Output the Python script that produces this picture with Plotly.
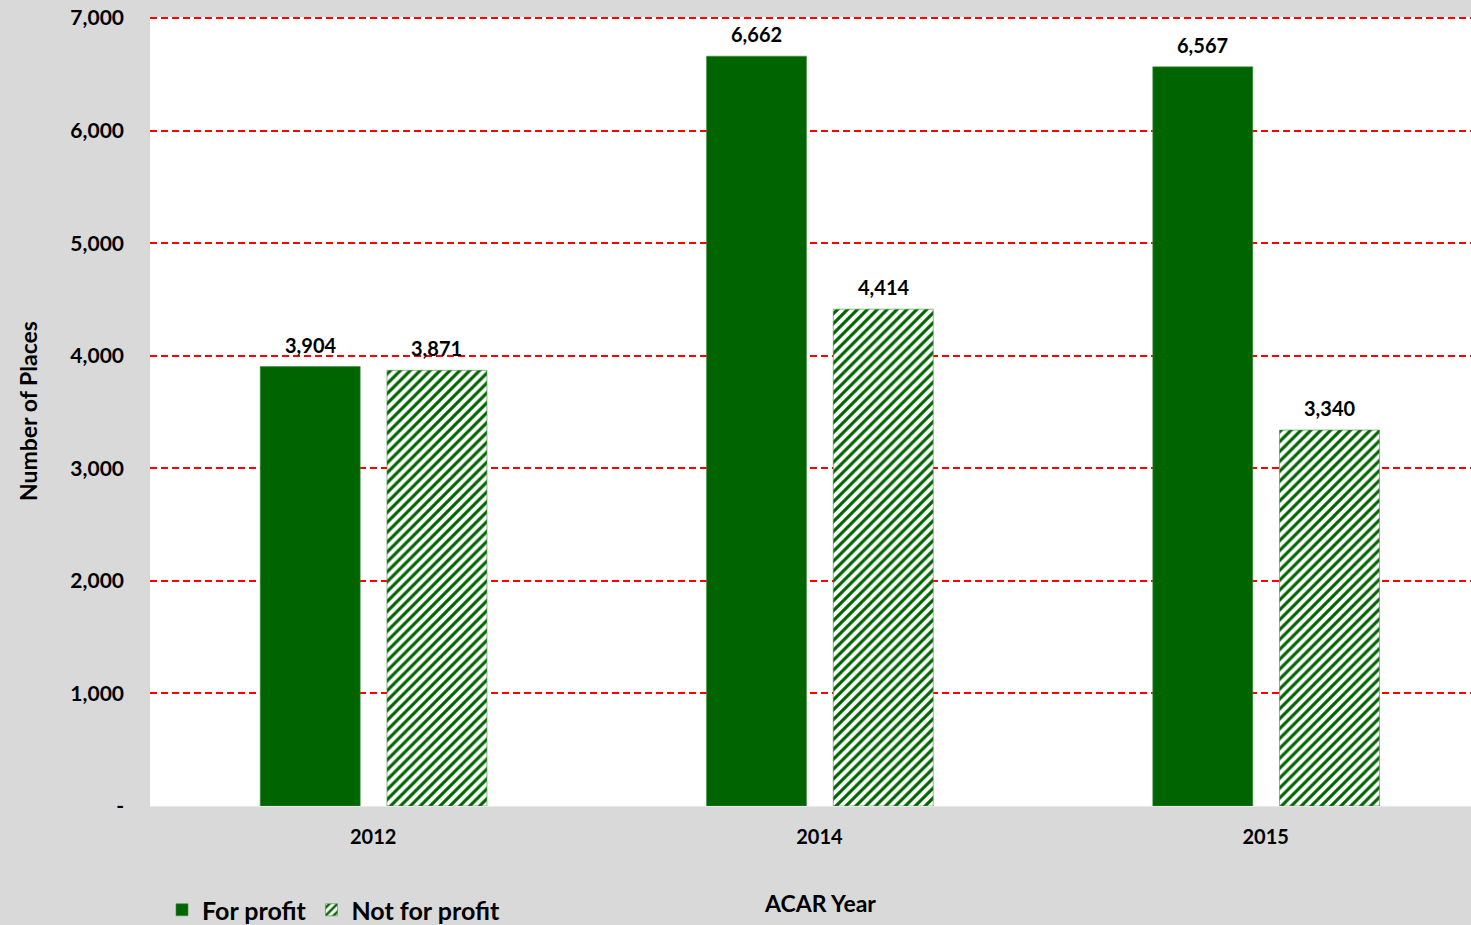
import plotly.graph_objects as go

# Places by ownership type, per ACAR year
years = ["2012", "2014", "2015"]
for_profit = [3904, 6662, 6567]
not_for_profit = [3871, 4414, 3340]

y_ticks = [0, 1000, 2000, 3000, 4000, 5000, 6000, 7000]
y_tick_labels = ["-", "1,000", "2,000", "3,000", "4,000", "5,000", "6,000", "7,000"]

GREEN = "#006400"
BG = "#d9d9d9"
FONT = "Lato"

BAR_W = 0.224
OFF_FP = -0.253
OFF_NFP = 0.031

PLOT_L, PLOT_R, PLOT_T, PLOT_B = 150, 1471, 17, 806


def px_to_paper_y(py):
    return (PLOT_B - py) / (PLOT_B - PLOT_T)


def px_to_paper_x(px):
    return (px - PLOT_L) / (PLOT_R - PLOT_L)


fig = go.Figure()
fig.add_trace(go.Bar(
    name="For profit", x=years, y=for_profit,
    width=BAR_W, offset=OFF_FP,
    marker=dict(color=GREEN, line=dict(color="#3f8f3f", width=0.6)),
))
fig.add_trace(go.Bar(
    name="Not for profit", x=years, y=not_for_profit,
    width=BAR_W, offset=OFF_NFP,
    marker=dict(
        color=GREEN,
        line=dict(color="#3f8f3f", width=0.6),
        pattern=dict(shape="/", fgcolor=GREEN, bgcolor="white",
                     fillmode="replace", size=7, solidity=0.45),
    ),
))

# Value labels above each bar
annotations = []
for i, (fp, nfp) in enumerate(zip(for_profit, not_for_profit)):
    for val, off in ((fp, OFF_FP), (nfp, OFF_NFP)):
        annotations.append(dict(
            x=i + off + BAR_W / 2, y=val, xref="x", yref="y",
            text=f"{val:,}", showarrow=False, yanchor="bottom", yshift=8,
            font=dict(family=FONT, size=20, color="black", weight="bold"),
        ))

# Axis titles
annotations.append(dict(
    x=px_to_paper_x(820), y=px_to_paper_y(903), xref="paper", yref="paper",
    xanchor="center", yanchor="middle",
    text="ACAR Year", showarrow=False,
    font=dict(family=FONT, size=23, color="black", weight="bold"),
))
annotations.append(dict(
    text="Number of Places", x=px_to_paper_x(28), y=px_to_paper_y(411),
    xref="paper", yref="paper", xanchor="center", yanchor="middle",
    textangle=-90, showarrow=False,
    font=dict(family=FONT, size=23, color="black", weight="bold"),
))

fig.update_layout(
    width=1471, height=925,
    margin=dict(l=PLOT_L, r=1471 - PLOT_R, t=PLOT_T, b=925 - PLOT_B, pad=0,
                autoexpand=False),
    paper_bgcolor=BG, plot_bgcolor="white",
    barmode="overlay",
    font=dict(family=FONT, color="black"),
    showlegend=True,
    legend=dict(
        orientation="h", x=px_to_paper_x(162), xanchor="left",
        y=px_to_paper_y(910), yanchor="middle",
        bgcolor="rgba(0,0,0,0)",
        font=dict(family=FONT, size=25, color="black", weight="bold"),
        itemwidth=30, traceorder="normal",
    ),
    annotations=annotations,
    xaxis=dict(
        type="category", range=[-0.5, 2.46],
        showgrid=False, zeroline=False, showline=False,
        tickfont=dict(family=FONT, size=20, color="black", weight="bold"),
        ticks="", ticklabelstandoff=17,
    ),
    yaxis=dict(
        range=[0, 7010], tickvals=y_ticks, ticktext=y_tick_labels,
        showgrid=True, gridcolor="#ff0000", griddash="7px,4px", gridwidth=1.5,
        zeroline=True, zerolinecolor="#e8e8e8", zerolinewidth=1,
        showline=False, ticks="", ticklabelstandoff=25,
        tickfont=dict(family=FONT, size=21, color="black", weight="bold"),
    ),
)

fig.write_html("out.html")
